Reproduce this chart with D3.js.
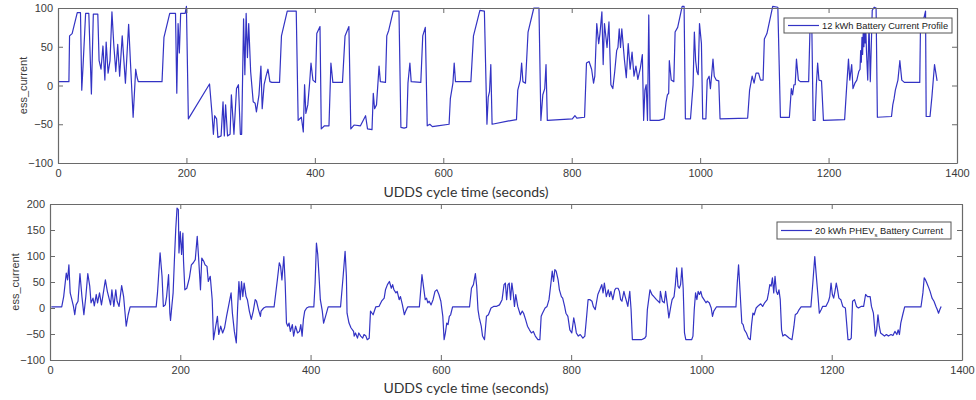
<!DOCTYPE html>
<html><head><meta charset="utf-8">
<script src="https://cdn.jsdelivr.net/npm/d3@7"></script>
<style>body{margin:0;background:#fff}svg{display:block}</style>
</head><body>
<script>
// ---------- DATA ----------
const xTicks = [0,200,400,600,800,1000,1200,1400];
const topYTicks = [-100,-50,0,50,100];
const bottomYTicks = [-100,-50,0,50,100,150,200];
const xTitle = "UDDS cycle time (seconds)";
const yTitle = "ess_current";
const topLegend = "12 kWh Battery Current Profile";

const topTime = [0,17,18,22,30,35,37,39,43,48,52,55,62,64,67,70,73,75,78,81,84,87,90,93,96,100,105,110,113,117,121,123,125,162,165,174,183,185,187,189,191,198,200,203,236,240,242,244,247,249,254,257,259,261,264,268,270,274,278,281,284,286,289,291,293,295,297,300,304,307,309,313,316,318,321,324,327,330,333,345,348,357,371,374,379,382,384,386,389,392,394,397,401,403,408,410,415,422,425,428,443,447,453,456,
461,471,479,482,489,491,493,496,500,502,510,512,515,522,531,534,539,543,545,548,550,565,568,572,575,579,583,591,609,611,615,617,619,643,647,657,664,668,670,672,674,676,700,714,716,720,722,724,728,732,741,749,752,755,758,760,762,801,805,808,820,823,827,831,834,836,839,842,844,847,849,851,855,858,861,864,867,870,872,874,876,878,882,885,888,891,894,897,900,903,907,910,912,914,916,918,920,922,936,
944,947,949,951,952,955,959,961,965,972,975,977,985,987,989,991,993,995,997,999,1002,1004,1009,1011,1014,1016,1018,1020,1022,1025,1029,1031,1074,1077,1081,1084,1087,1091,1094,1098,1100,1104,1113,1121,1125,1139,1142,1144,1146,1148,1150,1153,1156,1169,1171,1174,1176,1179,1181,1183,1185,1189,1192,1225,1228,1231,1233,1236,1238,1241,1244,1247,1249,1250,1251,1252,1253,1254,1255,1256,1257,1258,1259,1261,1263,1265,1268,1271,1274,1276,1298,1300,1302,1304,1308,1311,1314,1318,1342,1343,1351,1352,1358,1361,1365,1369];
const topCurrent = [5,5,64,67,94,94,-6,25,93,93,-11,92,92,32,21,51,7,56,16,32,95,51,18,53,12,64,3,79,27,-41,21,11,5,5,62,93,93,-10,80,42,93,93,102,-43,2,-38,-63,-39,-43,-67,-65,-21,-65,-25,-65,-63,-12,-63,-4,1,-63,-63,86,14,93,36,80,18,-21,-23,-34,-12,25,-30,1,12,21,5,4,4,64,96,96,-45,-41,-60,1,-36,-25,5,29,7,4,67,76,-56,-52,-52,29,4,4,64,76,-56,
-51,-52,-39,-56,-57,-10,-30,-25,25,5,4,64,71,96,96,-54,-55,-54,3,29,5,4,64,75,-52,-50,-53,-52,-50,-17,3,29,5,5,64,97,96,-50,-15,-8,27,-50,-46,-44,-6,7,29,5,3,69,100,100,-45,-12,-4,27,-45,-43,-39,-42,-41,29,31,21,3,12,80,54,67,95,27,80,49,82,1,-4,18,45,49,73,49,73,34,10,54,21,43,12,25,8,23,40,-45,-6,1,-45,91,-45,-45,
-43,-21,-12,-10,32,7,5,69,75,102,102,-43,-43,-21,1,69,32,18,14,80,54,-43,-43,7,12,-4,14,34,12,7,6,-43,-42,-6,12,3,16,16,7,7,60,67,102,101,-41,-41,-4,-12,1,1,34,7,5,5,71,71,-45,-45,1,29,7,6,-45,-44,-4,34,7,27,-4,3,7,18,21,45,30,62,40,70,50,76,55,73,45,7,80,5,97,101,100,-41,-40,-25,-17,-6,7,32,7,4,4,68,96,-40,-40,-14,27,6];

const bottomLegendMain = "20 kWh PHEV";
const bottomLegendSub = "s";
const bottomLegendTail = " Battery Current";

const bottomTime = [2,18,21,25,27,29,31,33,36,38,40,43,46,49,52,55,58,61,63,66,68,71,73,76,79,81,85,88,90,93,95,98,101,103,106,110,113,117,120,123,163,165,169,172,174,177,179,182,184,185,187,189,191,193,195,197,198,200,202,204,205,207,210,214,217,220,223,226,228,231,233,236,238,241,243,246,249,251,254,257,259,262,265,268,271,274,278,280,283,286,288,290,292,294,296,298,301,303,306,309,312,315,317,320,323,324,328,331,344,349,352,354,356,359,361,363,365,367,369,372,374,377,380,383,385,387,389,391,394,397,405,407,409,411,413,415,418,420,423,427,446,450,453,455,456,459,462,466,
467,469,472,474,477,480,482,485,487,490,492,496,500,505,509,513,515,518,521,524,526,528,531,533,536,538,541,544,546,549,567,571,574,576,578,580,582,585,588,591,594,597,600,603,605,607,609,611,613,615,618,644,647,650,653,655,657,659,662,664,667,670,673,677,681,685,690,694,697,699,701,703,705,707,709,711,713,715,718,722,725,727,730,733,736,739,742,745,749,752,754,756,760,763,766,769,771,773,775,777,780,782,785,787,790,792,795,798,801,804,806,808,811,814,818,821,824,826,829,832,834,837,841,844,847,849,851,854,857,859,861,864,867,869,872,874,876,878,881,883,885,887,890,892,894,900,908,913,915,917,921,924,927,931,936,
937,940,943,945,948,950,953,955,958,960,962,964,966,968,970,972,974,976,981,985,987,989,991,993,995,997,999,1001,1004,1007,1009,1012,1015,1017,1019,1023,1053,1055,1057,1060,1062,1064,1066,1069,1072,1075,1077,1079,1081,1084,1087,1091,1094,1097,1101,1103,1105,1107,1109,1111,1113,1115,1117,1119,1121,1123,1125,1128,1131,1135,1139,1142,1144,1147,1150,1153,1168,1171,1174,1176,1179,1181,1184,1186,1191,1195,1197,1199,1201,1203,1205,1207,1209,1211,1214,1217,1221,1225,1228,1230,1232,1235,1238,1241,1245,1249,1252,1255,1259,1261,1264,1267,1269,1271,1273,1275,1278,1281,1284,1287,1291,1294,1297,1300,1302,1304,1306,1309,1312,1337,1340,1342,1344,1346,1348,1351,1354,1357,1360,1362,1364,1366,1368];
const bottomCurrent = [2,2,22,67,54,83,29,19,3,-13,6,13,66,22,-13,22,66,42,10,19,4,26,10,29,6,22,54,32,22,6,35,3,35,13,3,43,22,-35,-13,2,2,29,106,61,3,6,22,64,-10,-24,3,29,93,151,192,189,106,147,103,144,90,35,38,58,83,87,93,138,99,35,96,90,83,80,51,61,16,-61,-38,-16,-51,-35,-48,-38,-16,3,29,-10,-45,-67,0,51,16,51,22,48,22,16,-6,-22,-6,16,13,-3,-16,-6,0,2,2,54,87,80,54,99,48,-29,-35,-29,-45,-32,-54,-35,-48,-45,-32,-54,-22,-6,0,2,2,48,125,103,61,16,-6,-29,-16,2,2,61,109,61,-10,-29,-38,-45,
-54,-48,-58,-48,-54,-58,-51,-54,-61,-58,-6,-13,2,3,13,19,35,45,51,38,45,35,29,32,16,22,6,-13,-6,2,2,64,35,16,19,10,13,6,16,32,35,26,13,-16,-61,-48,-29,-32,-16,-13,2,2,38,45,66,42,-3,-19,-35,-54,-61,-16,-13,0,3,3,6,16,45,48,16,45,48,16,48,29,3,26,3,-13,-6,-10,-22,-35,-42,-48,-45,-54,-61,-61,-16,-10,0,3,16,48,71,51,74,71,54,35,22,19,3,-10,-16,-42,-48,-19,-32,-48,-54,-51,-58,-54,-13,16,16,13,3,-3,26,35,45,29,48,22,35,22,32,16,35,38,38,32,16,13,32,22,13,3,32,-3,-61,-61,-61,-58,-54,-3,35,26,22,16,10,
32,13,10,32,3,-19,3,16,22,45,77,42,38,45,77,38,-48,-61,-61,-61,-54,-3,29,16,32,26,32,22,16,10,13,10,0,-16,-6,2,2,48,83,16,-29,-32,-42,-48,-58,-61,-32,-10,-13,0,4,8,3,10,16,29,45,42,58,29,61,32,26,35,16,-42,-54,-51,-54,-58,-61,-35,-13,-10,-3,2,2,48,99,67,22,-10,-3,3,3,13,22,48,26,19,32,48,35,19,16,3,0,-61,-61,-58,13,16,3,0,3,3,26,22,22,3,-10,-54,-42,-13,-35,-48,-51,-54,-51,-54,-51,-53,-45,-51,-42,-51,-29,-13,2,2,29,58,54,48,42,32,19,13,3,-3,-10,-3,3];

// ---------- DRAW ----------
const W = 976, H = 400;
const svg = d3.select("body").append("svg").attr("width", W).attr("height", H)
  .style("font-family", "'Liberation Sans', Arial, sans-serif");

const lineColor = "#3333c4";
const axisColor = "#6a6a6a";
const textColor = "#3a3a3a";

function panel(cfg) {
  const {left, right, top, bottom, yDomain, yTicks, times, values, ylabX, xlabY} = cfg;
  const x = d3.scaleLinear().domain([0, 1400]).range([left, right]);
  const y = d3.scaleLinear().domain(yDomain).range([bottom, top]);
  const g = svg.append("g");

  const data = times.map((t, i) => [t, values[i]]);
  g.append("path").datum(data)
    .attr("fill", "none").attr("stroke", lineColor).attr("stroke-width", 1.2)
    .attr("stroke-linejoin", "round")
    .attr("d", d3.line().x(d => x(d[0])).y(d => y(d[1])));

  const ax = [
    g.append("g").attr("transform", `translate(0,${bottom})`)
      .call(d3.axisBottom(x).tickValues(xTicks).tickSizeInner(-5).tickSizeOuter(0).tickPadding(6).tickFormat(d3.format("d"))),
    g.append("g").attr("transform", `translate(0,${top})`)
      .call(d3.axisTop(x).tickValues(xTicks).tickSizeInner(-5).tickSizeOuter(0).tickFormat("")),
    g.append("g").attr("transform", `translate(${left},0)`)
      .call(d3.axisLeft(y).tickValues(yTicks).tickSizeInner(-5).tickSizeOuter(0).tickPadding(5).tickFormat(d3.format("d"))),
    g.append("g").attr("transform", `translate(${right},0)`)
      .call(d3.axisRight(y).tickValues(yTicks).tickSizeInner(-5).tickSizeOuter(0).tickFormat(""))
  ];
  ax.forEach(a => {
    a.select(".domain").attr("stroke", axisColor).attr("stroke-width", 1.2);
    a.selectAll(".tick line").attr("stroke", axisColor);
    a.selectAll(".tick text").attr("fill", textColor).style("font-size", "11px")
      .style("font-family", "'Liberation Sans', Arial, sans-serif");
  });

  g.append("text")
    .attr("transform", `translate(${ylabX},${(top + bottom) / 2}) rotate(-90)`)
    .attr("text-anchor", "middle").attr("fill", textColor)
    .style("font-size", "11px").text(yTitle);

  g.append("text").attr("x", 466).attr("y", xlabY)
    .attr("text-anchor", "middle").attr("fill", "#333")
    .style("font-family", "Lato, 'Open Sans', sans-serif").style("font-size", "14px")
    .text(xTitle);
  return {x, y, g};
}

panel({left: 58, right: 957, top: 8, bottom: 163, yDomain: [-100, 100], yTicks: topYTicks,
  times: topTime, values: topCurrent, ylabX: 27, xlabY: 197});
panel({left: 50, right: 962, top: 204, bottom: 360, yDomain: [-100, 200], yTicks: bottomYTicks,
  times: bottomTime, values: bottomCurrent, ylabX: 19, xlabY: 393});

function legend(x0, y0, w, h, fs, drawText) {
  const g = svg.append("g");
  g.append("rect").attr("x", x0).attr("y", y0).attr("width", w).attr("height", h)
    .attr("fill", "#fff").attr("stroke", "#555").attr("stroke-width", 1);
  g.append("line").attr("x1", x0 + 4).attr("x2", x0 + 35).attr("y1", y0 + h / 2).attr("y2", y0 + h / 2)
    .attr("stroke", lineColor).attr("stroke-width", 1.2);
  const t = g.append("text").attr("x", x0 + 38).attr("y", y0 + h / 2 + 3)
    .attr("fill", "#222").style("font-size", fs + "px");
  drawText(t);
}
legend(784, 18, 168, 15, 9.3, t => t.text(topLegend));
legend(777, 222, 174, 17, 9.3, t => {
  t.append("tspan").text(bottomLegendMain);
  t.append("tspan").attr("dy", 3).style("font-size", "6px").text(bottomLegendSub);
  t.append("tspan").attr("dy", -3).text(bottomLegendTail);
});
</script>
</body></html>
